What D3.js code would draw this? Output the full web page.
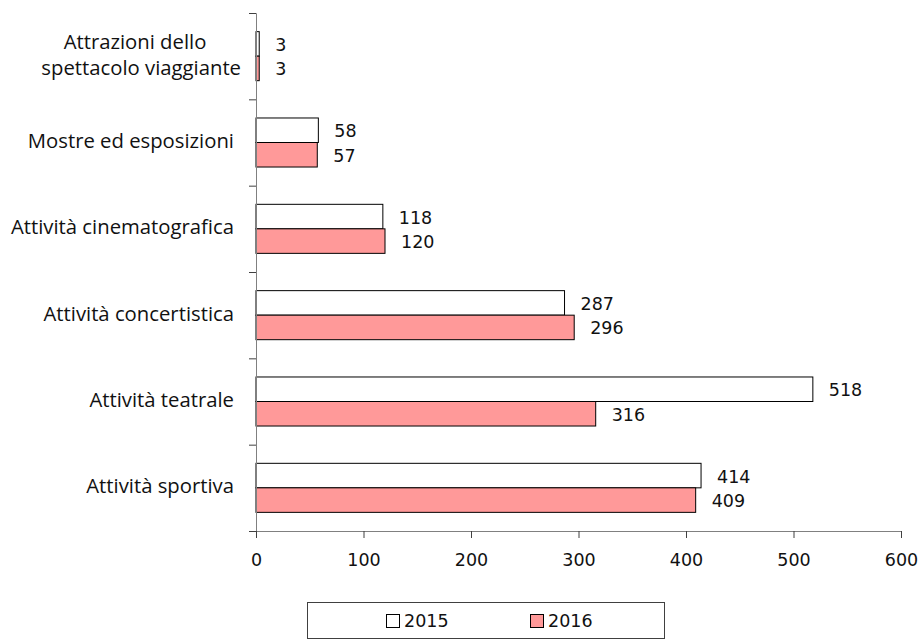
<!DOCTYPE html>
<html><head><meta charset="utf-8">
<script src="https://cdn.jsdelivr.net/npm/d3@7"></script>
<style>body{margin:0;background:#fff}svg{display:block}</style>
</head><body>
<svg id="c" width="920" height="640"></svg>
<script>
const categories = [
  ["Attrazioni dello", "spettacolo viaggiante"],
  ["Mostre ed esposizioni"],
  ["Attività cinematografica"],
  ["Attività concertistica"],
  ["Attività teatrale"],
  ["Attività sportiva"]
];
const seriesNames = ["2015", "2016"];
const values2015 = [3, 58, 118, 287, 518, 414];
const values2016 = [3, 57, 120, 296, 316, 409];
const xTicks = [0, 100, 200, 300, 400, 500, 600];
const colors = ["#ffffff", "#ff9999"];

const svg = d3.select("#c");
const catKeys = categories.map(c => c.join(" "));
const x = d3.scaleLinear().domain([0, 600]).range([256, 901]);
const y0 = d3.scaleBand().domain(catKeys).range([13, 531]).paddingInner(0.432).paddingOuter(0.216);
const y1 = d3.scaleBand().domain(seriesNames).range([0, y0.bandwidth()]);
const idx = d3.scaleLinear().domain([0, categories.length]).range([13, 531]);

const numFont = "DejaVu Sans, Verdana, sans-serif";
const catFont = "Open Sans, Noto Sans, sans-serif";

// bars
const series = [values2015, values2016];
series.forEach((vals, si) => {
  svg.append("g").selectAll("rect").data(vals).join("rect")
    .attr("x", x(0))
    .attr("y", (d, i) => y0(catKeys[i]) + y1(seriesNames[si]))
    .attr("width", d => x(d) - x(0))
    .attr("height", y1.bandwidth())
    .attr("fill", colors[si])
    .attr("stroke", "#000")
    .attr("stroke-width", 1);
  svg.append("g").selectAll("text").data(vals).join("text")
    .attr("x", d => x(d) + 16)
    .attr("y", (d, i) => y0(catKeys[i]) + y1(seriesNames[si]) + y1.bandwidth() / 2 + 2)
    .attr("dominant-baseline", "middle")
    .attr("font-family", numFont)
    .attr("font-size", 17.5)
    .attr("fill", "#111")
    .text(d => d);
});

// y axis (category boundaries)
const yAxis = svg.append("g").attr("transform", `translate(${x(0)},0)`)
  .call(d3.axisLeft(idx).tickValues(d3.range(categories.length + 1)).tickSize(7).tickFormat(""));
yAxis.select(".domain").attr("stroke", "#808080");
yAxis.selectAll(".tick line").attr("stroke", "#404040");

// x axis
const xAxis = svg.append("g").attr("transform", `translate(0,531)`)
  .call(d3.axisBottom(x).tickValues(xTicks).tickSize(7).tickPadding(16).tickSizeOuter(7));
xAxis.select(".domain").attr("stroke", "#808080");
xAxis.selectAll(".tick line").attr("stroke", "#404040");
xAxis.selectAll(".tick text").attr("font-family", numFont).attr("font-size", 17.5).attr("fill", "#111");

// category labels
categories.forEach((lines, i) => {
  const cy = y0(catKeys[i]) + y0.bandwidth() / 2;
  const lh = 26;
  lines.forEach((ln, j) => {
    const t = svg.append("text")
      .attr("y", cy + (j - (lines.length - 1) / 2) * lh)
      .attr("dominant-baseline", "middle")
      .attr("font-family", catFont)
      .attr("font-size", 20.3)
      .attr("fill", "#111")
      .text(ln);
    if (lines.length > 1 && j === 0) t.attr("x", 135).attr("text-anchor", "middle");
    else if (lines.length > 1) t.attr("x", 241).attr("text-anchor", "end");
    else t.attr("x", 234).attr("text-anchor", "end");
  });
});

// legend
const lg = svg.append("g");
lg.append("rect").attr("x", 307.5).attr("y", 602.5).attr("width", 357).attr("height", 36)
  .attr("fill", "#fff").attr("stroke", "#404040");
const legX = [386, 530];
seriesNames.forEach((s, i) => {
  lg.append("rect").attr("x", legX[i] + 0.5).attr("y", 614.5).attr("width", 13).attr("height", 13)
    .attr("fill", colors[i]).attr("stroke", "#000");
  lg.append("text").attr("x", legX[i] + 18).attr("y", 621.5)
    .attr("dominant-baseline", "middle")
    .attr("font-family", numFont).attr("font-size", 17.5).attr("fill", "#111").text(s);
});
</script>
</body></html>
